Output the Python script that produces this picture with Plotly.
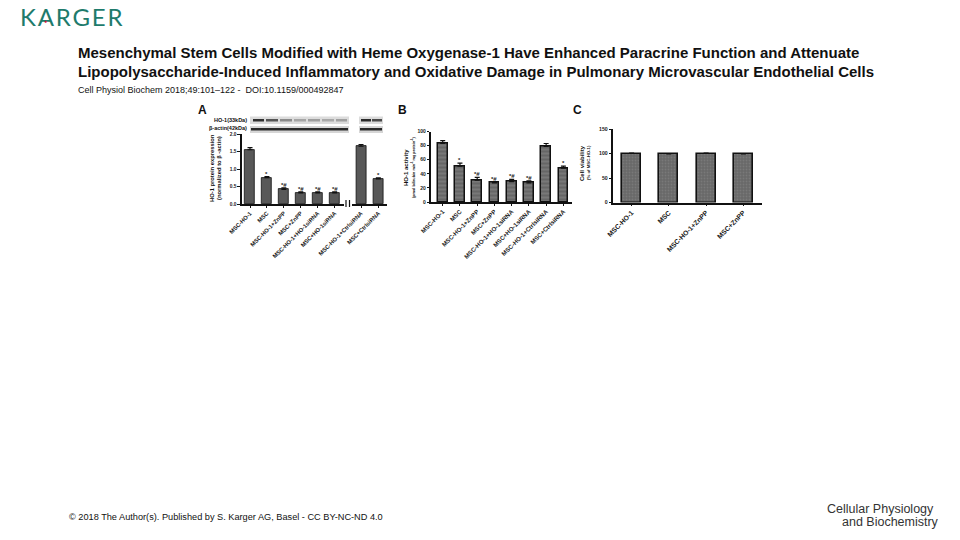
import plotly.graph_objects as go

# ---------------- data ----------------
cats_a_left = ["MSC-HO-1", "MSC", "MSC-HO-1+ZnPP", "MSC+ZnPP", "MSC-HO-1+HO-1siRNA", "MSC+HO-1siRNA"]
cats_a_right = ["MSC-HO-1+CtrlsiRNA", "MSC+CtrlsiRNA"]
vals_a_left = [1.55, 0.75, 0.42, 0.32, 0.32, 0.32]
err_a_left = [0.06, 0.03, 0.04, 0.03, 0.03, 0.03]
sig_a_left = ["", "*", "*#", "*#", "*#", "*#"]
vals_a_right = [1.65, 0.72]
err_a_right = [0.05, 0.03]
sig_a_right = ["", "*"]

cats_b = ["MSC-HO-1", "MSC", "MSC-HO-1+ZnPP", "MSC+ZnPP", "MSC-HO-1+HO-1siRNA",
          "MSC+HO-1siRNA", "MSC-HO-1+CtrlsiRNA", "MSC+CtrlsiRNA"]
vals_b = [83, 51, 31, 27, 29, 27, 79, 48]
err_b = [4, 4, 4, 2, 3, 3, 4, 3]
sig_b = ["", "*", "*#", "*#", "*#", "*#", "", "*"]

cats_c = ["MSC-HO-1", "MSC", "MSC-HO-1+ZnPP", "MSC+ZnPP"]
vals_c = [100, 99, 100, 99]
err_c = [0.8, 0.8, 0.8, 0.8]

ticks_a = [0.0, 0.5, 1.0, 1.5, 2.0]
ticks_b = [0, 20, 40, 60, 80, 100]
ticks_c = [0, 50, 100, 150]

# ---------------- helpers ----------------
W, H = 960, 540
def px(x):
    return x / W
def py(y):
    return 1 - y / H

FONT = "Liberation Sans, Arial, sans-serif"

fig = go.Figure()

def add_bars(xname, yname, cats, vals, errs, width, color, lw, pattern=None):
    marker = dict(color=color, line=dict(color="#111111", width=lw))
    if pattern:
        marker["pattern"] = pattern
    fig.add_trace(go.Bar(
        x=cats, y=vals, width=width, xaxis=xname, yaxis=yname,
        marker=marker,
        error_y=dict(type="data", array=errs, arrayminus=[0] * len(errs), symmetric=False,
                     color="#111111", thickness=1.2, width=2.5),
        showlegend=False, hoverinfo="skip"))

def add_sig(xname, yname, cats, vals, errs, sigs, size):
    for c, v, e, s in zip(cats, vals, errs, sigs):
        if s:
            fig.add_annotation(x=c, y=v + e, xref=xname, yref=yname, text="<b>" + s + "</b>",
                               showarrow=False, yanchor="bottom", yshift=-2,
                               font=dict(size=size, family=FONT, color="#222"))

add_bars("x", "y", cats_a_left, vals_a_left, err_a_left, 0.58, "#585858", 0.8)
add_bars("x2", "y2", cats_a_right, vals_a_right, err_a_right, 0.58, "#585858", 0.8)
add_bars("x3", "y3", cats_b, vals_b, err_b, 0.56, "#6e6e6e", 1.5,
         dict(shape="-", fgcolor="#8e8e8e", bgcolor="#666666", size=4, solidity=0.45))
add_bars("x4", "y4", cats_c, vals_c, err_c, 0.51, "#6e6e6e", 1.6,
         dict(shape=".", fgcolor="#8a8a8a", bgcolor="#686868", size=3, solidity=0.3))

add_sig("x", "y", cats_a_left, vals_a_left, err_a_left, sig_a_left, 6)
add_sig("x2", "y2", cats_a_right, vals_a_right, err_a_right, sig_a_right, 6)
add_sig("x3", "y3", cats_b, vals_b, err_b, sig_b, 6)

def xax(domain, rng, anchor, fs):
    return dict(domain=domain, range=rng, anchor=anchor, type="category", showline=True,
                linecolor="#111", linewidth=1.5, ticks="outside", ticklen=2, tickcolor="#111",
                tickangle=-45, tickfont=dict(size=fs, family="Liberation Sans", color="#1a1a1a", weight="bold"),
                showgrid=False, zeroline=False, fixedrange=True, automargin=False)
def yax(domain, rng, ticks, fmt, anchor, fs, visible=True):
    return dict(domain=domain, range=rng, anchor=anchor, tickvals=ticks,
                ticktext=[fmt.format(t) for t in ticks], showline=True, linecolor="#111",
                linewidth=1.5, ticks="outside", ticklen=2.5, tickcolor="#111",
                tickfont=dict(size=fs, family="Liberation Sans", color="#1a1a1a", weight="bold"),
                showgrid=False, zeroline=False, visible=visible, fixedrange=True, automargin=False)

yd_a = [py(204), py(134)]
yd_b = [py(202), py(131.5)]
yd_c = [py(202.5), py(129)]

fig.update_layout(
    width=W, height=H, margin=dict(l=0, r=0, t=0, b=0, autoexpand=False),
    paper_bgcolor="white", plot_bgcolor="rgba(0,0,0,0)",
    bargap=0,
    xaxis=xax([px(241.7), px(344)], [-0.49, 5.55], "y", 5.8),
    yaxis=yax(yd_a, [0, 2], ticks_a, "{:.1f}", "x", 4.8),
    xaxis2=xax([px(351.5), px(387)], [-0.55, 1.5], "y2", 5.8),
    yaxis2=yax(yd_a, [0, 2], ticks_a, "{:.1f}", "x2", 4.8, visible=False),
    xaxis3=xax([px(431), px(572)], [-0.68, 7.5], "y3", 6.1),
    yaxis3=yax(yd_b, [0, 100], ticks_b, "{}", "x3", 5),
    xaxis4=xax([px(613), px(762)], [-0.5, 3.5], "y4", 6.8),
    yaxis4=yax(yd_c, [0, 150], ticks_c, "{}", "x4", 5.2),
)

shapes = []
# axis break marks in panel A
for xb in (346.0, 349.5):
    shapes.append(dict(type="line", xref="paper", yref="paper", x0=px(xb), x1=px(xb),
                       y0=py(200), y1=py(207), line=dict(color="#111", width=1.2)))
# western blot strips (picture, drawn as shapes)
for (x0, x1) in ((250, 349), (359, 383)):
    shapes.append(dict(type="rect", xref="paper", yref="paper", x0=px(x0), x1=px(x1),
                       y0=py(124), y1=py(116.5), fillcolor="#dcdcdc", line=dict(width=0)))
    shapes.append(dict(type="rect", xref="paper", yref="paper", x0=px(x0), x1=px(x1),
                       y0=py(133), y1=py(126), fillcolor="#d6d6d6", line=dict(width=0)))
ho_bands = [(253, 264, "#303030"), (266, 278, "#555"), (280, 292, "#8a8a8a"), (294, 306, "#a5a5a5"),
            (308, 320, "#9d9d9d"), (322, 334, "#a8a8a8"), (336, 347, "#a0a0a0"),
            (361, 371, "#2a2a2a"), (372, 382, "#4a4a4a")]
for x0, x1, c in ho_bands:
    shapes.append(dict(type="rect", xref="paper", yref="paper", x0=px(x0), x1=px(x1),
                       y0=py(121.5), y1=py(119), fillcolor=c, line=dict(width=0)))
for (x0, x1) in ((251, 348), (360, 382)):
    shapes.append(dict(type="rect", xref="paper", yref="paper", x0=px(x0), x1=px(x1),
                       y0=py(130.5), y1=py(128), fillcolor="#2a2a2a", line=dict(width=0)))
fig.update_layout(shapes=shapes)

def ann(x, y, text, size, color="#111", xanchor="left", yanchor="middle", angle=0, family=FONT, align="left"):
    fig.add_annotation(x=px(x), y=py(y), xref="paper", yref="paper", text=text, showarrow=False,
                       xanchor=xanchor, yanchor=yanchor, textangle=angle, align=align,
                       font=dict(size=size, color=color, family=family))

# header / footer
ann(18, 16, "<span style='letter-spacing:1.8px'>KARGER</span>", 24, color="#1e7b6c", family="Lato, sans-serif")
ann(45, 20.5, "●", 5, color="#d0103a", xanchor="center")
ann(76, 53, "<b>Mesenchymal Stem Cells Modified with Heme Oxygenase-1 Have Enhanced Paracrine Function and Attenuate</b>", 15)
ann(76, 71, "<b>Lipopolysaccharide-Induced Inflammatory and Oxidative Damage in Pulmonary Microvascular Endothelial Cells</b>", 15)
ann(76, 90, "Cell Physiol Biochem 2018;49:101–122 -  DOI:10.1159/000492847", 9)
ann(67, 517, "© 2018 The Author(s). Published by S. Karger AG, Basel - CC BY-NC-ND 4.0", 9.2)
ann(825, 509, "Cellular Physiology", 12.5, color="#333")
ann(840, 522, "and Biochemistry", 12.5, color="#333")

# panel letters
ann(196, 110, "<b>A</b>", 12)
ann(396, 110, "<b>B</b>", 12)
ann(571, 110, "<b>C</b>", 12)

# blot labels
ann(249, 119.5, "<b>HO-1(33kDa)</b>", 5.5, xanchor="right")
ann(249, 128.5, "<b>β-actin(42kDa)</b>", 5.5, xanchor="right")

# y-axis titles
ann(212, 168, "<b>HO-1 protein expression</b>", 5.8, xanchor="center", angle=-90)
ann(219, 168, "<b>(normalized to β -actin)</b>", 5.8, xanchor="center", angle=-90)
ann(406, 168, "<b>HO-1 activity</b>", 6, xanchor="center", angle=-90)
ann(413, 167, "<b>(pmol bilirubin min<sup>-1</sup> mg protein<sup>-1</sup>)</b>", 3.8, xanchor="center", angle=-90)
ann(582, 163, "<b>Cell viability</b>", 6, xanchor="center", angle=-90)
ann(589, 163, "<b>(% of MSC-HO-1)</b>", 4.3, xanchor="center", angle=-90)

fig.write_html("out.html", post_script="document.body.style.margin='0';",
               config={"displayModeBar": False})
